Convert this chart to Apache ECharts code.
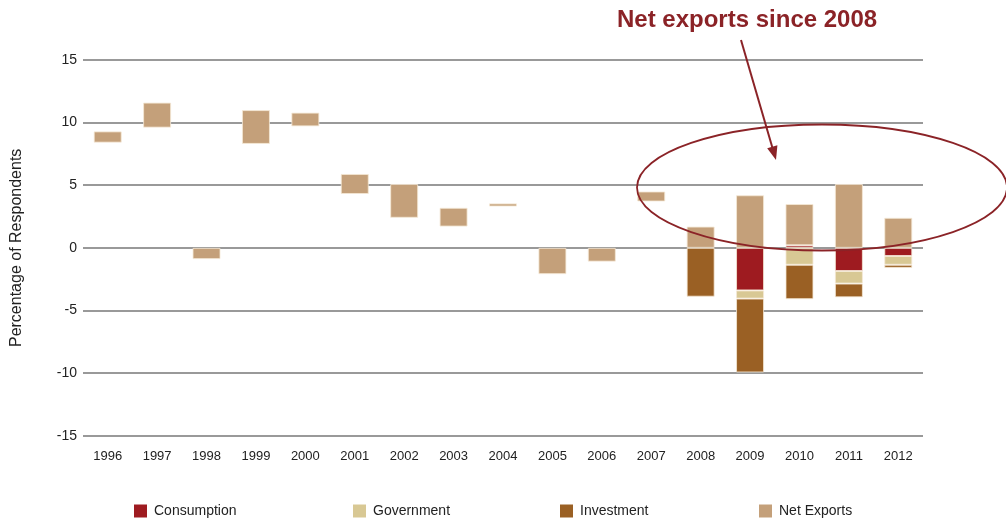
<!DOCTYPE html>
<html>
<head>
<meta charset="utf-8">
<script src="https://cdn.jsdelivr.net/npm/echarts@6/dist/echarts.min.js"></script>
<style>
  html, body { margin: 0; padding: 0; background: #fff; }
  #chart { width: 1006px; height: 520px; }
</style>
</head>
<body>
<div id="chart"></div>
<script>
// Contributions to GDP growth by component, percentage points
const years = ['1996','1997','1998','1999','2000','2001','2002','2003','2004','2005','2006','2007','2008','2009','2010','2011','2012'];

// Where a net-export bar floats away from zero, it starts at this level
const netExportsStart = [8.4, 9.6, null, 8.3, 9.7, 4.3, 2.4, 1.7, 3.3, null, null, 3.7, null, null, null, null, null];
// Length of each net-export bar
const netExports = [0.9, 2.0, -0.9, 2.7, 1.1, 1.6, 2.7, 1.5, 0.25, -2.1, -1.1, 0.8, 1.7, 4.2, 3.3, 5.1, 2.4];

const consumption = [null, null, null, null, null, null, null, null, null, null, null, null, null, -3.4, 0.2, -1.85, -0.65];
const government  = [null, null, null, null, null, null, null, null, null, null, null, null, null, -0.65, -1.35, -1.0, -0.7];
const investment  = [null, null, null, null, null, null, null, null, null, null, null, null, -3.9, -5.9, -2.75, -1.1, -0.25];

const yTicks = { min: -15, max: 15, step: 5 };

const colors = {
  consumption: '#9e1b20',
  government: '#d8c894',
  investment: '#9a6024',
  netExports: '#c4a07a',
  accent: '#8b2327'
};

const font = '"Liberation Sans", Arial, Helvetica, sans-serif';
const barEdge = { borderColor: 'rgba(245,232,214,0.8)', borderWidth: 1 };

function legendAt(name, left) {
  return {
    data: [name],
    left: left,
    top: 499,
    icon: 'rect',
    itemWidth: 13,
    itemHeight: 13,
    itemGap: 0,
    itemStyle: { borderWidth: 0 },
    textStyle: { fontFamily: font, fontSize: 14, color: '#222', padding: [0, 0, 0, 2] },
    selectedMode: false
  };
}

function stackSeries(name, data, color) {
  return {
    name: name,
    type: 'bar',
    stack: 'total',
    data: data,
    barWidth: 28,
    itemStyle: Object.assign({ color: color }, barEdge),
    emphasis: { disabled: true }
  };
}

const chart = echarts.init(document.getElementById('chart'), null, { renderer: 'canvas' });

chart.setOption({
  animation: false,
  backgroundColor: '#ffffff',
  grid: { left: 83, right: 83, top: 60, bottom: 84.3, containLabel: false, outerBoundsMode: 'none' },
  legend: [
    legendAt('Consumption', 129),
    legendAt('Government', 348),
    legendAt('Investment', 555),
    legendAt('Net Exports', 754)
  ],
  xAxis: {
    type: 'category',
    data: years,
    axisLine: { show: false },
    axisTick: { show: false },
    axisLabel: { fontFamily: font, fontSize: 13, color: '#222', margin: 14 }
  },
  yAxis: {
    type: 'value',
    min: yTicks.min,
    max: yTicks.max,
    interval: yTicks.step,
    name: 'Percentage of Respondents',
    nameLocation: 'middle',
    nameGap: 58,
    nameTextStyle: { fontFamily: font, fontSize: 16, color: '#222' },
    axisLine: { show: false },
    axisTick: { show: false },
    axisLabel: { fontFamily: font, fontSize: 14, color: '#222', margin: 6 },
    splitLine: { lineStyle: { color: '#999999', width: 2 } }
  },
  series: [
    {
      name: 'offset',
      type: 'bar',
      stack: 'total',
      data: netExportsStart,
      barWidth: 28,
      silent: true,
      itemStyle: { color: 'rgba(0,0,0,0)', borderWidth: 0 },
      emphasis: { disabled: true }
    },
    stackSeries('Consumption', consumption, colors.consumption),
    stackSeries('Government', government, colors.government),
    stackSeries('Investment', investment, colors.investment),
    stackSeries('Net Exports', netExports, colors.netExports)
  ],
  graphic: [
    {
      type: 'text',
      left: 617,
      top: 8,
      z: 100,
      style: {
        text: 'Net exports since 2008',
        fill: colors.accent,
        font: 'bold 24px ' + font
      }
    },
    {
      type: 'ellipse',
      z: 100,
      shape: { cx: 822, cy: 187.5, rx: 185, ry: 63 },
      style: { fill: 'none', stroke: colors.accent, lineWidth: 1.8 }
    },
    {
      type: 'line',
      z: 100,
      shape: { x1: 741, y1: 40, x2: 772.5, y2: 148 },
      style: { stroke: colors.accent, lineWidth: 2 }
    },
    {
      type: 'polygon',
      z: 100,
      shape: { points: [[776, 160], [767.2, 148.2], [777.4, 145.3]] },
      style: { fill: colors.accent }
    }
  ]
});
</script>
</body>
</html>
